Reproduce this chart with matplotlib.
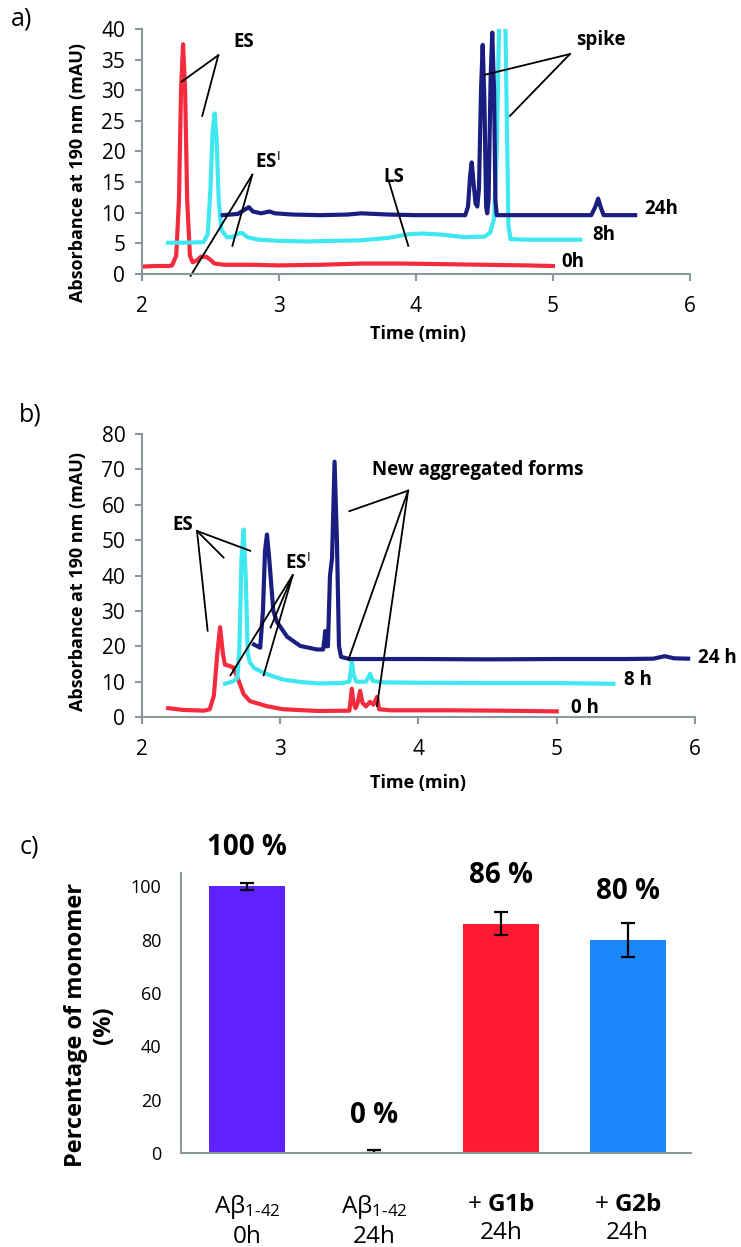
import matplotlib
matplotlib.use('Agg')
import matplotlib.pyplot as plt

plt.rcParams['font.family'] = ['Open Sans', 'DejaVu Sans']
plt.rcParams['mathtext.fontset'] = 'custom'
plt.rcParams['mathtext.rm'] = 'Open Sans'
plt.rcParams['mathtext.bf'] = 'Open Sans:bold'
plt.rcParams['mathtext.it'] = 'Open Sans:italic'

# ---- panel a: chromatograms (time in min, absorbance in mAU)
a_0h_t = [2.00, 2.10, 2.20, 2.22, 2.25, 2.27, 2.285, 2.30, 2.315, 2.33, 2.35, 2.37, 2.40, 2.43,
          2.47, 2.50, 2.53, 2.60, 2.80, 3.00, 3.30, 3.60, 3.90, 4.20, 4.50, 4.80, 5.00]
a_0h_v = [1.2, 1.3, 1.3, 1.4, 3.0, 12.0, 30.0, 37.5, 30.0, 12.0, 3.0, 1.9, 2.2, 2.8,
          2.8, 2.3, 1.7, 1.5, 1.5, 1.4, 1.5, 1.7, 1.7, 1.6, 1.5, 1.4, 1.3]

a_8h_t = [2.19, 2.30, 2.45, 2.48, 2.50, 2.515, 2.53, 2.545, 2.56, 2.58, 2.62, 2.66, 2.70, 2.73,
          2.77, 2.85, 3.00, 3.20, 3.40, 3.60, 3.80, 3.95, 4.05, 4.20, 4.35, 4.50, 4.54, 4.57,
          4.59, 4.61, 4.63, 4.65, 4.66, 4.675, 4.69, 4.80, 5.00, 5.20]
a_8h_v = [5.1, 5.1, 5.2, 6.5, 14.0, 23.0, 26.2, 22.0, 12.0, 7.2, 6.0, 6.0, 6.6, 6.7,
          6.0, 5.6, 5.4, 5.3, 5.4, 5.5, 5.9, 6.5, 6.6, 6.4, 6.0, 6.1, 6.7, 9.0,
          20.0, 45.0, 48.0, 45.0, 30.0, 8.0, 5.7, 5.6, 5.6, 5.6]

a_24h_t = [2.59, 2.70, 2.75, 2.78, 2.81, 2.87, 2.93, 2.97, 3.10, 3.30, 3.50, 3.60, 3.80, 4.00,
           4.20, 4.36, 4.38, 4.395, 4.407, 4.42, 4.435, 4.448, 4.46, 4.475, 4.487, 4.50, 4.512,
           4.52, 4.53, 4.545, 4.557, 4.57, 4.58, 4.59, 4.80, 5.00, 5.28, 5.31, 5.33, 5.35, 5.37,
           5.50, 5.60]
a_24h_v = [9.6, 9.8, 10.5, 10.9, 10.2, 9.9, 10.2, 9.9, 9.7, 9.6, 9.7, 9.9, 9.7, 9.6,
           9.6, 9.6, 11.0, 16.0, 18.2, 15.0, 11.5, 11.0, 14.0, 30.0, 37.4, 28.0, 11.0,
           9.9, 12.0, 32.0, 39.4, 30.0, 12.0, 9.6, 9.6, 9.6, 9.6, 11.0, 12.3, 10.8, 9.6,
           9.6, 9.6]

# ---- panel b
b_0h_t = [2.19, 2.30, 2.45, 2.49, 2.52, 2.545, 2.565, 2.585, 2.60, 2.63, 2.66, 2.70, 2.735, 2.78,
          2.90, 3.02, 3.28, 3.50, 3.51, 3.518, 3.53, 3.545, 3.56, 3.578, 3.595, 3.62, 3.65,
          3.675, 3.70, 3.715, 3.80, 4.20, 4.60, 5.00]
b_0h_v = [2.5, 2.0, 1.8, 2.2, 6.0, 18.0, 25.4, 18.0, 14.8, 14.5, 14.0, 10.2, 6.5, 4.5,
          3.1, 2.2, 1.7, 1.8, 5.0, 8.0, 4.0, 2.5, 4.0, 7.4, 4.0, 3.0, 4.3,
          3.5, 5.7, 2.2, 1.9, 1.9, 1.8, 1.6]

b_8h_t = [2.60, 2.66, 2.69, 2.705, 2.72, 2.735, 2.75, 2.765, 2.78, 2.81, 2.88, 2.95, 3.02, 3.15,
          3.28, 3.45, 3.50, 3.51, 3.518, 3.53, 3.55, 3.62, 3.65, 3.67, 3.75, 4.00, 4.50, 5.00, 5.41]
b_8h_v = [9.4, 10.1, 11.0, 20.0, 45.0, 53.0, 40.0, 18.0, 15.5, 13.9, 12.5, 11.5, 10.6, 9.9,
          9.5, 9.6, 10.0, 13.0, 15.8, 12.0, 10.0, 10.0, 12.2, 10.2, 9.8, 9.7, 9.6, 9.6, 9.4]

b_24h_t = [2.81, 2.855, 2.875, 2.89, 2.904, 2.92, 2.95, 2.976, 3.05, 3.145, 3.265, 3.31, 3.32,
           3.325, 3.335, 3.345, 3.36, 3.375, 3.393, 3.41, 3.425, 3.44, 3.50, 4.00, 4.50, 5.00,
           5.50, 5.70, 5.78, 5.85, 5.95]
b_24h_v = [20.5, 19.6, 30.0, 47.0, 51.6, 45.0, 30.0, 26.9, 22.7, 20.1, 19.1, 19.1, 22.0,
           24.3, 20.0, 20.0, 40.0, 45.0, 72.2, 50.0, 20.0, 17.0, 16.4, 16.4, 16.3, 16.4,
           16.4, 16.5, 17.2, 16.6, 16.5]

# ---- panel c: bars
groups = ['A\u03b2$_{1\u201042}$\n0h', 'A\u03b2$_{1\u201042}$\n24h',
          '+ $\\mathbf{G1b}$\n24h', '+ $\\mathbf{G2b}$\n24h']
monomer = [100, 0, 86, 80]
monomer_err = [1.3, 0.5, 4.3, 6.4]
pct_labels = ['100 %', '0 %', '86 %', '80 %']
pct_label_y = [114.4, 13.9, 104.2, 98.2]

RED = '#F42A3D'
CYAN = '#3FE8F0'
NAVY = '#1A1E80'
AXC = '#8C979C'

fig = plt.figure(figsize=(7.41, 12.47), dpi=100)


def style_chrom(ax, ymax, ystep):
    ax.set_xlim(2, 6)
    ax.set_ylim(0, ymax)
    ax.set_xticks([2, 3, 4, 5, 6])
    ax.set_yticks(range(0, ymax + 1, ystep))
    for s in ['top', 'right']:
        ax.spines[s].set_visible(False)
    for s in ['left', 'bottom']:
        ax.spines[s].set_color(AXC)
        ax.spines[s].set_linewidth(1.5)
    ax.tick_params(colors=AXC, labelcolor='black', labelsize=15, length=5, width=1.5)
    ax.tick_params(axis='x', pad=11)
    ax.tick_params(axis='y', pad=7)


def pointer(ax, start, ends):
    for e in ends:
        ax.plot([start[0], e[0]], [start[1], e[1]], color='black', lw=1.3, clip_on=False)


# panel a
ax1 = fig.add_axes([0.1916, 0.7803, 0.7395, 0.1965])
ax1.plot(a_0h_t, a_0h_v, color=RED, lw=3)
ax1.plot(a_8h_t, a_8h_v, color=CYAN, lw=3)
ax1.plot(a_24h_t, a_24h_v, color=NAVY, lw=3)
style_chrom(ax1, 40, 5)
kw = dict(fontsize=13.5, fontweight='bold', va='center')
ax1.text(5.67, 10.6, '24h', ha='left', clip_on=False, **kw)
ax1.text(5.29, 6.4, '8h', ha='left', **kw)
ax1.text(5.06, 2.0, '0h', ha='left', **kw)
ax1.text(2.74, 37.9, 'ES', ha='center', **kw)
pointer(ax1, (2.557, 35.7), [(2.29, 31.4), (2.44, 25.8)])
ax1.text(2.92, 18.1, 'ES$^{\\mathrm{I}}$', ha='center', **kw)
pointer(ax1, (2.805, 16.2), [(2.66, 4.6), (2.355, -0.3)])
ax1.text(3.835, 15.9, 'LS', ha='center', **kw)
pointer(ax1, (3.805, 14.9), [(3.944, 4.6)])
ax1.text(5.35, 38.2, 'spike', ha='center', **kw)
pointer(ax1, (5.124, 35.9), [(4.50, 32.5), (4.686, 25.8)])

# panel b
ax2 = fig.add_axes([0.1916, 0.4250, 0.7463, 0.2269])
ax2.plot(b_0h_t, b_0h_v, color=RED, lw=3)
ax2.plot(b_8h_t, b_8h_v, color=CYAN, lw=3)
ax2.plot(b_24h_t, b_24h_v, color=NAVY, lw=3)
style_chrom(ax2, 80, 10)
ax2.text(6.02, 16.8, '24 h', ha='left', clip_on=False, **kw)
ax2.text(5.49, 10.5, '8 h', ha='left', **kw)
ax2.text(5.10, 2.6, '0 h', ha='left', **kw)
ax2.text(2.296, 54.3, 'ES', ha='center', **kw)
pointer(ax2, (2.398, 52.6), [(2.475, 24.4), (2.59, 45.1), (2.783, 47.0)])
ax2.text(3.128, 43.2, 'ES$^{\\mathrm{I}}$', ha='center', **kw)
pointer(ax2, (3.09, 40.1), [(2.64, 11.8), (2.88, 11.8), (2.93, 25.3)])
ax2.text(4.43, 69.9, 'New aggregated forms', ha='center', **kw)
pointer(ax2, (3.925, 64.0), [(3.50, 58.2), (3.494, 16.3), (3.70, 3.1)])

for yc in [0.862, 0.534]:
    fig.text(78 / 741, yc, 'Absorbance at 190 nm (mAU)', rotation=90, ha='center', va='center',
             fontsize=13, fontweight='bold')
fig.text(418 / 741, 1 - 334 / 1247, 'Time (min)', ha='center', va='center', fontsize=13,
         fontweight='bold')
fig.text(418 / 741, 1 - 783 / 1247, 'Time (min)', ha='center', va='center', fontsize=13,
         fontweight='bold')

# panel c
ax3 = fig.add_axes([0.2443, 0.0754, 0.6883, 0.2245])
x = range(len(groups))
ax3.bar(x, monomer, width=0.6, color=['#5F21FF', '#111111', '#FF1A33', '#1A87FA'])
ax3.errorbar(x, [m if m > 0 else 0.5 for m in monomer], yerr=monomer_err, fmt='none',
             ecolor='black', elinewidth=1.6, capsize=5, capthick=1.6)
for i, (lab, yl) in enumerate(zip(pct_labels, pct_label_y)):
    ax3.text(i, yl, lab, ha='center', va='center', fontsize=20, fontweight='bold', clip_on=False)
ax3.set_xlim(-0.52, 3.5)
ax3.set_ylim(0, 105)
ax3.set_yticks(range(0, 101, 20))
ax3.set_xticks(list(x))
ax3.set_xticklabels(groups)
for s in ['top', 'right']:
    ax3.spines[s].set_visible(False)
for s in ['left', 'bottom']:
    ax3.spines[s].set_color(AXC)
    ax3.spines[s].set_linewidth(1.5)
ax3.tick_params(axis='y', length=0, labelsize=13, pad=14)
ax3.tick_params(axis='x', length=0, labelsize=17.5, pad=29)
fig.text(90 / 741, 1 - 1025 / 1247, 'Percentage of monomer\n(%)', rotation=90, ha='center',
         va='center', multialignment='center', fontsize=17, fontweight='bold')

fig.text(22 / 741, 1 - 19 / 1247, 'a)', ha='center', va='center', fontsize=18)
fig.text(30 / 741, 1 - 415 / 1247, 'b)', ha='center', va='center', fontsize=18)
fig.text(29 / 741, 1 - 847 / 1247, 'c)', ha='center', va='center', fontsize=18)

fig.savefig('out.png', dpi=100)
